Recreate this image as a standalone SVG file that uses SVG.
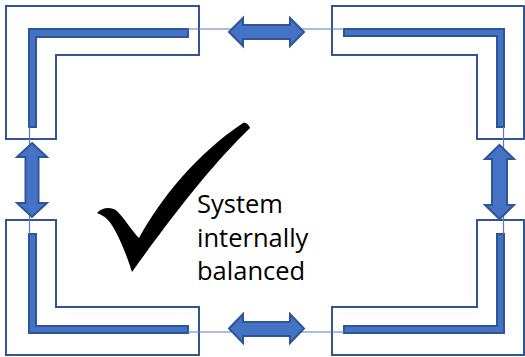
<svg xmlns="http://www.w3.org/2000/svg" width="525" height="357" viewBox="0 0 525 357">
<style>
.frame{fill:#fff;stroke:#2F5597;stroke-width:2}
.bar{fill:#4472C4;stroke:#2F5597;stroke-width:2}
.conn{fill:none;stroke:#5B7CB8;stroke-width:1.2}
.arr{fill:#4472C4;stroke:#2F5597;stroke-width:2;stroke-linejoin:miter}
.lbl{font-family:"Open Sans","Liberation Sans",sans-serif;font-size:25.5px;fill:#000}
</style>
<rect width="525" height="357" fill="#fff"/>
<g id="top-left">
<path class="frame" d="M6,6 H199 V55 H56 V139 H6 Z"/>
<path class="bar" d="M29,29 H188 V37 H36 V127 H29 Z"/>
</g>
<g id="top-right">
<path class="frame" d="M332,6 H524 V139 H477 V55 H332 Z"/>
<path class="bar" d="M344,29 H504 V127 H497 V36 H344 Z"/>
</g>
<g id="bottom-left">
<path class="frame" d="M6,220 H56 V307 H199 V355 H6 Z"/>
<path class="bar" d="M29,234 H36 V326 H188 V333 H29 Z"/>
</g>
<g id="bottom-right">
<path class="frame" d="M477,220 H524 V355 H332 V307 H477 Z"/>
<path class="bar" d="M497,234 H504 V333 H344 V326 H497 Z"/>
</g>
<g id="connectors">
<path class="conn" d="M188,29 H344"/>
<path class="conn" d="M188,332 H344"/>
<path class="conn" d="M29.5,127 V234"/>
<path class="conn" d="M503.5,127 V234"/>
<polygon class="arr" points="229,32 243,18 243,25 290,25 290,18 304,32 290,46 290,39 243,39 243,46"/>
<polygon class="arr" points="229,328.5 243,314 243,322 290,322 290,314 304,328.5 290,343 290,336 243,336 243,343"/>
<polygon class="arr" points="32,143 47,157 38.5,157 38.5,203 47,203 32,217 17,203 25.5,203 25.5,157 17,157"/>
<polygon class="arr" points="499.5,145 514,159 507,159 507,205 514,205 499.5,219 485,205 492,205 492,159 485,159"/>
</g>
<g id="check">
<path fill="#000" d="M97,213 C102,208 110,206 117,211 C124,218 133,232 139,238 C160,200 195,155 243,123 C246,122 249,125 250,128 C215,162 180,205 132,272 C125,250 116,229 108,220 C104,216 100,214 97,213 Z"/>
</g>
<g id="label">
<text class="lbl" x="197" y="213">System</text>
<text class="lbl" x="197" y="247">internally</text>
<text class="lbl" x="197" y="280">balanced</text>
</g>
</svg>
